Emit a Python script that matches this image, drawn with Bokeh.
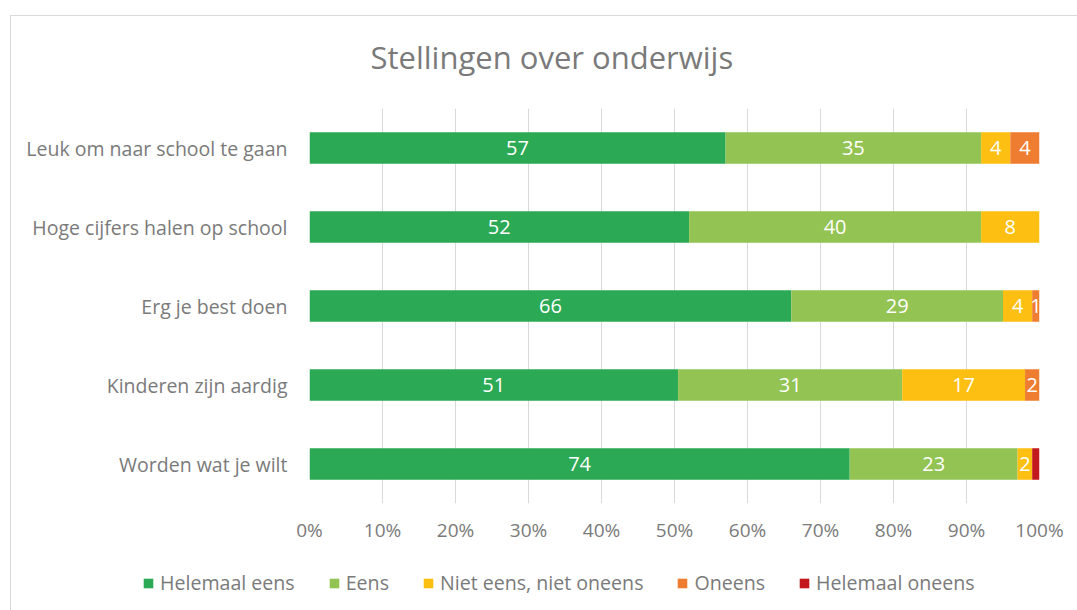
from bokeh.plotting import figure
from bokeh.layouts import column
from bokeh.models import (FactorRange, Range1d, Legend, LegendItem, PrintfTickFormatter,
                          FixedTicker, ColumnDataSource, Title)
from bokeh.core.properties import value
from bokeh.embed import file_html
from bokeh.resources import INLINE

categories = ["Leuk om naar school te gaan", "Hoge cijfers halen op school", "Erg je best doen",
              "Kinderen zijn aardig", "Worden wat je wilt"]
series = ["Helemaal eens", "Eens", "Niet eens, niet oneens", "Oneens", "Helemaal oneens"]
helemaal_eens = [57, 52, 66, 51, 74]
eens = [35, 40, 29, 31, 23]
neutraal = [4, 8, 4, 17, 2]
oneens = [4, 0, 1, 2, 0]
helemaal_oneens = [0, 0, 0, 0, 1]
colors = ["#2CA955", "#92C353", "#FDBF12", "#EE7D31", "#C3181C"]
tick_values = [0, 10, 20, 30, 40, 50, 60, 70, 80, 90, 100]
show_labels = [True, True, True, True, False]
title_text = "Stellingen over onderwijs"

FONT = "Open Sans"
GRAY = "#7a7a7a"

raw = [helemaal_eens, eens, neutraal, oneens, helemaal_oneens]
keys = ["s%d" % i for i in range(len(series))]
totals = [sum(r[i] for r in raw) for i in range(len(categories))]
data = {"cat": categories}
for k, r in zip(keys, raw):
    data[k] = [v / t * 100 for v, t in zip(r, totals)]
src = ColumnDataSource(data)

# label positions
lx, ly, lt = [], [], []
for i, c in enumerate(categories):
    cum = 0.0
    for j, r in enumerate(raw):
        pct = r[i] / totals[i] * 100
        if r[i] > 0 and show_labels[j]:
            lx.append(cum + pct / 2)
            ly.append(c)
            lt.append(str(r[i]))
        cum += pct
lsrc = ColumnDataSource(dict(x=lx, y=ly, t=lt))

p = figure(y_range=FactorRange(*list(reversed(categories))), x_range=Range1d(0, 100),
           width=1066, height=535, output_backend="svg", toolbar_location=None, title=None,
           min_border_left=298, min_border_right=38, min_border_top=92, min_border_bottom=48)
p.frame_align = False

renderers = p.hbar_stack(keys, y="cat", height=0.4, color=colors, line_width=0, source=src)

p.text(x="x", y="y", text="t", source=lsrc, text_color="white", text_align="center",
       text_baseline="middle", text_font=value(FONT), text_font_size="20px")

# small spacer between frame and title, then the title itself
spacer = Title(text="\u00a0", text_font_size="1px", standoff=12)
p.add_layout(spacer, "above")
main_title = Title(text=title_text, align="left", offset=61, standoff=32, text_font=FONT,
                   text_font_size="31px", text_font_style="normal", text_color=GRAY)
p.add_layout(main_title, "above")

p.xaxis.ticker = FixedTicker(ticks=tick_values)
p.xaxis.formatter = PrintfTickFormatter(format="%d%%")
for ax in (p.xaxis, p.yaxis):
    ax.axis_line_color = None
    ax.major_tick_line_color = None
    ax.minor_tick_line_color = None
    ax.major_tick_out = 0
    ax.major_tick_in = 0
    ax.major_label_text_font = FONT
    ax.major_label_text_color = GRAY
p.xaxis.major_label_text_font_size = "19px"
p.yaxis.major_label_text_font_size = "19.5px"
p.xaxis.major_label_standoff = 13
p.yaxis.major_label_standoff = 22

p.ygrid.grid_line_color = None
p.xgrid.grid_line_color = "#d9d9d9"
p.xgrid.grid_line_width = 1
p.outline_line_color = None
p.background_fill_color = "white"
p.border_fill_color = "white"

# legend strip below the chart (hidden copies of the bars supply the legend swatches)
p2 = figure(width=1066, height=59, output_backend="svg", toolbar_location=None,
            y_range=FactorRange(*categories), x_range=Range1d(0, 100),
            x_axis_location=None, y_axis_location=None,
            min_border_left=0, min_border_right=0, min_border_top=0, min_border_bottom=0)
p2.frame_align = False
p2.grid.grid_line_color = None
p2.outline_line_color = None
p2.border_fill_color = "white"
legend_renderers = p2.hbar_stack(keys, y="cat", height=0.4, color=colors, line_width=0,
                                 source=src, visible=False)
items = [LegendItem(label=s, renderers=[r]) for s, r in zip(series, legend_renderers)]
legend = Legend(items=items, orientation="horizontal", location=(131, 14), margin=0,
                padding=0, spacing=33, glyph_width=12, glyph_height=12, label_standoff=6,
                label_text_font=FONT, label_text_font_size="19.6px", label_text_color=GRAY,
                border_line_color=None, background_fill_alpha=0, label_height=20,
                inactive_fill_alpha=0)
p2.add_layout(legend)

layout = column(p, p2, spacing=0)
layout.styles = {"margin-left": "10px", "margin-top": "15px",
                 "border-left": "1px solid #d9d9d9", "border-top": "1px solid #d9d9d9"}

open("out.html", "w").write(file_html(layout, INLINE))
